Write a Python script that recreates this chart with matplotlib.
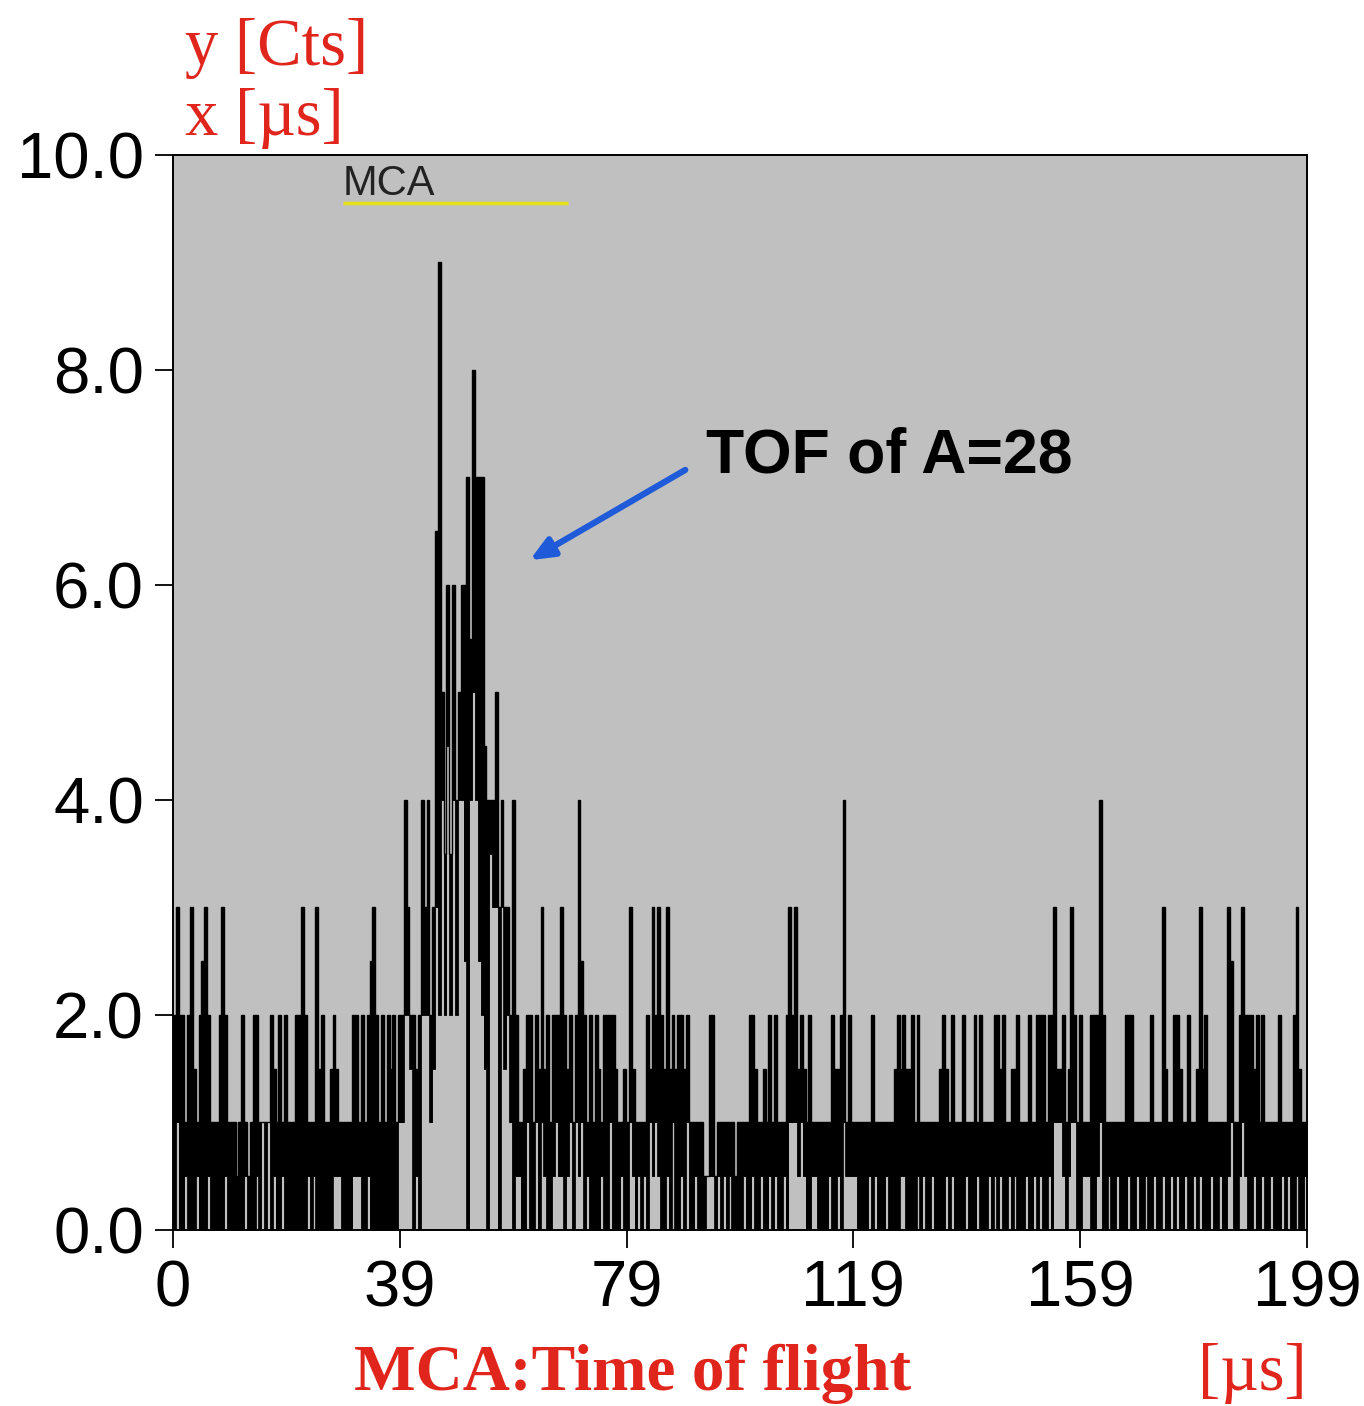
import numpy as np
import matplotlib
matplotlib.use('Agg')
import matplotlib.pyplot as plt

# MCA time-of-flight spectrum.
# one column = 0.5 us; each column is drawn from its min to its max count.
# values are in half counts: '0'..'9' -> 0..9, 'a'..'i' -> 10..18
BIN_US = 0.5
HI_CODE = (
    "46442463245642224642" "22124212442222432424" "22244642226342234322" "22244242456424243424"
    "486443486846dia7c7c8" "accebgeee9888a686648" "42234424363424446434" "24854242432444432232"
    "63222243646436343443" "42222211441222222122" "22443223242422246463" "43242222222433482422"
    "22222422222223434334" "24222222234324222422" "24242222443422334222" "42244424463342364242"
    "22444842222222444222" "22242226322443224223" "63422222226522464443" "424222224222246322"
)
LO_CODE = (
    "02001000100010000010" "00000100010202010010" "00000001010000001110" "00011100100000000002"
    "24430104442364849484" "88508a85430766063420" "11002002021001211012" "02120100001002000100"
    "21010102121001020010" "20010001110101010000" "10010010010100102221" "21001100001001021111"
    "00001010001000011000" "01010010000101000010" "00100010101001010001" "00101001022210122001"
    "11001200100100010010" "01001001001010010010" "10001001001200121001" "001001000101001001"
)

Y_TICKS = [0, 2, 4, 6, 8, 10]
X_TICKS = [0, 39.8, 79.6, 119.4, 159.2, 199]
X_TICK_LABELS = ["0", "39", "79", "119", "159", "199"]


def decode(code):
    return np.array([int(c, 36) for c in code]) / 2.0


hi = decode(HI_CODE)
lo = decode(LO_CODE)
edges = np.arange(len(hi) + 1) * BIN_US

RED = '#e0261c'
SANS = ['Liberation Sans', 'DejaVu Sans']
SERIF = ['Liberation Serif', 'DejaVu Serif']

fig = plt.figure(figsize=(13.64, 14.06), dpi=100)
ax = fig.add_axes([0.1268, 0.1252, 0.8314, 0.7646])
ax.set_facecolor('#c0c0c0')

# column ranges (min..max) as filled steps, plus outline of both envelopes
ax.fill_between(edges, np.append(lo, lo[-1]), np.append(hi, hi[-1]),
                step='post', color='black', linewidth=0)
ax.stairs(hi, edges, baseline=None, color='black', linewidth=1.0)
ax.stairs(lo, edges, baseline=None, color='black', linewidth=0.6)

ax.set_xlim(0, 199)
ax.set_ylim(0, 10)
ax.set_yticks(Y_TICKS)
ax.set_yticklabels([f"{v:.1f}" for v in Y_TICKS])
ax.set_xticks(X_TICKS)
ax.set_xticklabels(X_TICK_LABELS)
ax.tick_params(axis='both', direction='out', length=13, width=1.3, color='black',
               labelsize=47, pad=8)
for lab in ax.get_xticklabels() + ax.get_yticklabels():
    lab.set_family(SANS)
for sp in ax.spines.values():
    sp.set_linewidth(1.4)
    sp.set_color('black')

# trace label
ax.text(29.8, 9.63, "MCA", fontsize=30, color='#222222', family=SANS, va='baseline')
ax.plot([29.8, 69.3], [9.55, 9.55], color='#e6e01a', linewidth=2.5, solid_capstyle='butt')

# annotation
ax.text(93.5, 7.05, "TOF of A=28", fontsize=45, fontweight='bold', color='black',
        family=SANS, va='baseline')
ax.annotate("", xy=(62.6, 6.23), xytext=(89.9, 7.07),
            arrowprops=dict(arrowstyle='-|>,head_length=1.4,head_width=0.6',
                            color='#1f5bd8', linewidth=4.5, shrinkA=0, shrinkB=0))

# axis unit labels
fig.text(185 / 1364, 1 - 65 / 1406, "y [Cts]", fontsize=48, color=RED, family=SERIF,
         va='baseline', ha='left')
fig.text(185 / 1364, 1 - 135 / 1406, "x [µs]", fontsize=48, color=RED, family=SERIF,
         va='baseline', ha='left')
fig.text(633 / 1364, 1 - 1390 / 1406, "MCA:Time of flight", fontsize=47, color=RED,
         family=SERIF, fontweight='bold', va='baseline', ha='center')
fig.text(1252 / 1364, 1 - 1390 / 1406, "[µs]", fontsize=48, color=RED, family=SERIF,
         va='baseline', ha='center')

fig.savefig('out.png', dpi=100, facecolor='white')
